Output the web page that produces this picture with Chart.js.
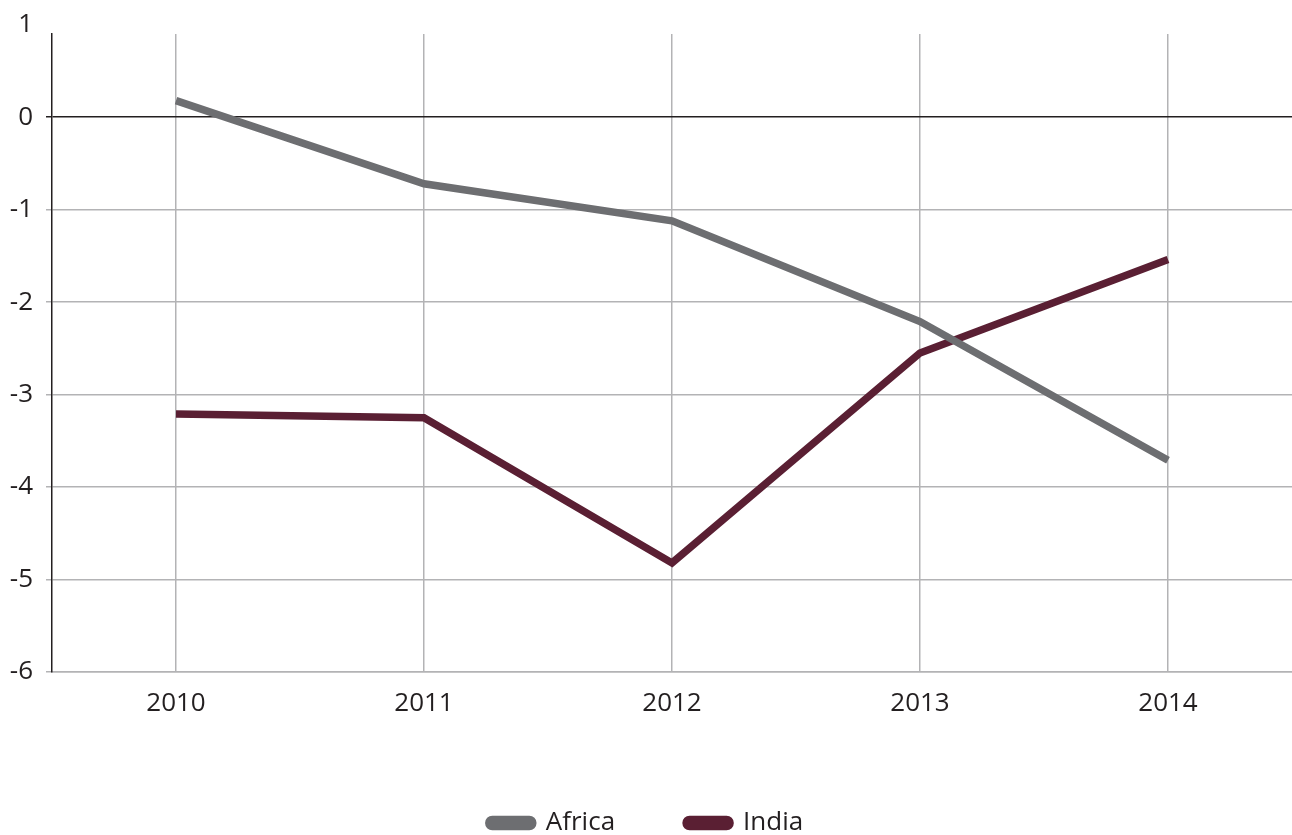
<!DOCTYPE html>
<html lang="en">
<head>
    <meta charset="UTF-8" />
    <title>Africa vs India</title>
    <style>
        html, body {
            margin: 0;
            padding: 0;
            background: #ffffff;
        }
        #chart-container {
            width: 1292px;
            height: 835px;
        }
    </style>
    <script src="https://cdn.jsdelivr.net/npm/chart.js"></script>
</head>
<body>
<div id="chart-container">
    <canvas id="mainChart"></canvas>
</div>

<script>
  const years = ["2010", "2011", "2012", "2013", "2014"];
  const africa = [0.18, -0.72, -1.12, -2.21, -3.71];
  const india = [-3.21, -3.25, -4.82, -2.55, -1.54];
  const yTicks = [-6, -5, -4, -3, -2, -1, 0, 1];

  const gridGray = "#b3b3b5";
  const textColor = "#231f20";
  const fontFamily = "'Open Sans', sans-serif";

  const ctx = document.getElementById("mainChart").getContext("2d");
  new Chart(ctx, {
    type: "line",
    data: {
      labels: years,
      datasets: [
        {
          label: "Africa",
          data: africa,
          borderColor: "#6d6e71",
          backgroundColor: "#6d6e71",
          borderWidth: 7.5,
          pointRadius: 0,
          tension: 0,
        },
        {
          label: "India",
          data: india,
          borderColor: "#5a1f33",
          backgroundColor: "#5a1f33",
          borderWidth: 7.5,
          pointRadius: 0,
          tension: 0,
        },
      ],
    },
    options: {
      responsive: true,
      maintainAspectRatio: false,
      animation: false,
      layout: {
        padding: { top: 34, right: 0, bottom: 0, left: 0 },
      },
      scales: {
        x: {
          offset: true,
          grid: {
            offset: false,
            color: gridGray,
            lineWidth: 1.5,
            drawTicks: false,
          },
          border: { color: gridGray, width: 1.5 },
          ticks: {
            color: textColor,
            padding: 16,
            font: { family: fontFamily, size: 26 },
          },
          afterFit: (scale) => {
            scale.height = 67;
          },
        },
        y: {
          min: -6,
          max: 0.9,
          // tick "1" sits just above the plot top, like the original
          afterBuildTicks: (scale) => {
            scale.ticks = yTicks.map((v) => ({ value: v }));
          },
          grid: {
            color: (c) => {
              if (c.tick && c.tick.value === 1) return "rgba(0,0,0,0)";
              if (c.tick && c.tick.value === 0) return "#231f20";
              return gridGray;
            },
            lineWidth: 1.5,
            tickLength: 6,
          },
          border: { color: "#231f20", width: 1.5 },
          ticks: {
            color: textColor,
            padding: 13,
            font: { family: fontFamily, size: 26 },
            callback: (v) => String(v),
          },
          afterFit: (scale) => {
            scale.width = 52;
          },
        },
      },
      plugins: {
        legend: {
          position: "bottom",
          maxHeight: 96,
          labels: {
            color: textColor,
            boxWidth: 44,
            boxHeight: 7,
            useBorderRadius: true,
            borderRadius: 3.5,
            padding: 71,
            font: { family: fontFamily, size: 26 },
          },
        },
        tooltip: { enabled: false },
      },
    },
  });
</script>

</body>
</html>
